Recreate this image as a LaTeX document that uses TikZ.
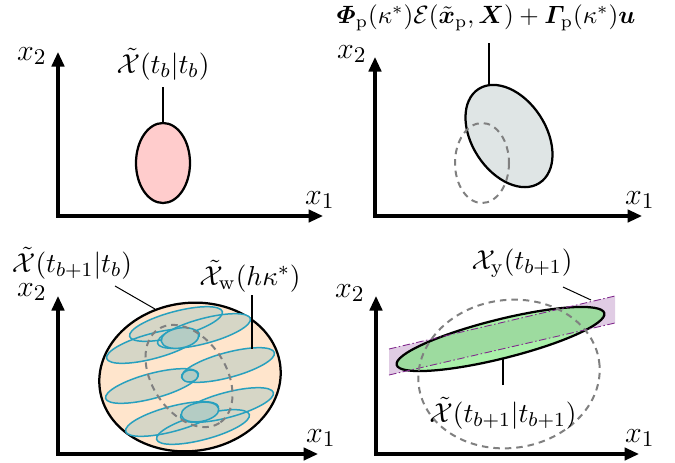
\documentclass[tikz,border=0pt]{standalone}
\usepackage{amsmath,amssymb,bm}
\usetikzlibrary{arrows.meta}
\definecolor{pinkfill}{RGB}{255,204,204}
\definecolor{grayfill}{RGB}{223,229,229}
\definecolor{peach}{RGB}{255,229,204}
\definecolor{tealline}{RGB}{40,160,190}
\definecolor{wfill}{RGB}{214,214,198}
\definecolor{wdark}{RGB}{180,204,196}
\definecolor{bandfill}{RGB}{224,204,228}
\definecolor{bandline}{RGB}{128,40,140}
\definecolor{greenfill}{RGB}{113,230,113}
\definecolor{dashgray}{RGB}{128,128,128}
\begin{document}
\begin{tikzpicture}[x=0.4pt,y=-0.4pt,
  axis/.style={line width=1.25pt,line join=miter,{Triangle[length=5.8pt,width=5pt]}-{Triangle[length=5.8pt,width=5pt]}},
  setline/.style={line width=0.9pt},
  dashset/.style={dashgray,line width=0.8pt,dash pattern=on 2.6pt off 2pt},
  wset/.style={tealline,line width=0.6pt},
  leader/.style={line width=0.8pt},
  thinleader/.style={line width=0.4pt},
  bandedge/.style={bandline,line width=0.35pt,dash pattern=on 3pt off 1pt on 0.6pt off 1pt},
  lbl/.style={inner sep=0pt,font=\fontsize{11}{13}\selectfont},
  axlbl/.style={inner sep=0pt,font=\fontsize{12.5}{14}\selectfont}]
\useasboundingbox (0,0) rectangle (675,462);

% ---------------- panel 1 ----------------
\coordinate (p1y) at (58,52);
\coordinate (p1o) at (58,216);
\coordinate (p1x) at (323,216);
\draw[axis] (p1y) -- (p1o) -- (p1x);
\node[axlbl] (p1x2) at (32,56) {$x_2$};
\node[axlbl] (p1x1) at (320,200) {$x_1$};
\draw[setline,fill=pinkfill] (163,163) ellipse [x radius=27, y radius=40];
\coordinate (p1top) at (163,123);
\node[lbl] (p1lab) at (163,64) {$\tilde{\mathcal{X}}(t_b|t_b)$};
\coordinate (p1lend) at (163,87);
\draw[leader] (p1lend) -- (p1top);

% ---------------- panel 2 ----------------
\coordinate (p2y) at (375,57);
\coordinate (p2o) at (375,216);
\coordinate (p2x) at (642,216);
\draw[axis] (p2y) -- (p2o) -- (p2x);
\node[axlbl] (p2x2) at (352,54) {$x_2$};
\node[axlbl] (p2x1) at (640,200) {$x_1$};
\draw[setline,fill=grayfill,rotate around={-57:(509,136)}] (509,136) ellipse [x radius=56, y radius=37];
\draw[dashset] (482,163) ellipse [x radius=27, y radius=40];
\node[lbl,font=\normalsize] (p2lab) at (486,18) {$\bm{\varPhi}_{\mathrm{p}}(\kappa^*)\mathcal{E}(\tilde{\bm{x}}_{\mathrm{p}},\bm{X})+\bm{\varGamma}_{\mathrm{p}}(\kappa^*)\bm{u}$};
\coordinate (p2lend) at (489,43);
\coordinate (p2top) at (489,86);
\draw[leader] (p2lend) -- (p2top);

% ---------------- panel 3 ----------------
\coordinate (p3y) at (58,296);
\coordinate (p3o) at (58,454);
\coordinate (p3x) at (318,454);
\draw[setline,fill=peach,rotate around={8:(190,377)}] (190,377) ellipse [x radius=91, y radius=74];
\draw[axis] (p3y) -- (p3o) -- (p3x);
\node[axlbl] (p3x2) at (32,292) {$x_2$};
\node[axlbl] (p3x1) at (321,438) {$x_1$};
% fills of the translated ellipses
\foreach \cx/\cy in {176/324, 204/331, 153/346, 228/365, 152/386, 227/405, 172/419, 203/427}{
  \fill[wfill,rotate around={15:(\cx,\cy)}] (\cx,\cy) ellipse [x radius=48, y radius=12.5];
}
\foreach \cx/\cy in {176/324, 204/331, 153/346, 228/365, 152/386, 227/405, 172/419, 203/427}{
  \draw[wset,rotate around={15:(\cx,\cy)}] (\cx,\cy) ellipse [x radius=48, y radius=12.5];
}
\draw[wset,fill=wdark,rotate around={10:(180,338)}] (180,338) ellipse [x radius=19, y radius=10];
\draw[wset,fill=wdark,rotate around={10:(190,376)}] (190,376) ellipse [x radius=8, y radius=6];
\draw[wset,fill=wdark,rotate around={10:(200,412)}] (200,412) ellipse [x radius=19, y radius=9.5];
\draw[dashset,rotate around={-57:(189,376)}] (189,376) ellipse [x radius=56, y radius=37];
\node[lbl] (p3lab) at (72,263) {$\tilde{\mathcal{X}}(t_{b+1}|t_b)$};
\coordinate (p3lend) at (115,286);
\coordinate (p3edge) at (155,309);
\draw[thinleader] (p3lend) -- (p3edge);
\node[lbl] (p3wlab) at (250,276) {$\tilde{\mathcal{X}}_{\mathrm{w}}(h\kappa^*)$};
\coordinate (p3wend) at (252,295);
\coordinate (p3wpt) at (252,349);
\draw[leader] (p3wend) -- (p3wpt);

% ---------------- panel 4 ----------------
\coordinate (p4y) at (376,296);
\coordinate (p4o) at (376,454);
\coordinate (p4x) at (639,454);
\coordinate (b1) at (389,349);
\coordinate (b2) at (615,296);
\coordinate (b3) at (615,323);
\coordinate (b4) at (389,375);
\fill[bandfill] (b1) -- (b2) -- (b3) -- (b4) -- cycle;
\draw[setline,fill=greenfill,fill opacity=0.6,rotate around={14:(500.5,339)}] (500.5,339) ellipse [x radius=107, y radius=19.5];
\draw[bandedge] (b1) -- (b2);
\draw[bandedge] (b4) -- (b3);
\draw[dashset,rotate around={8:(509,374)}] (509,374) ellipse [x radius=91, y radius=74];
\draw[axis] (p4y) -- (p4o) -- (p4x);
\node[axlbl] (p4x2) at (350,293) {$x_2$};
\node[axlbl] (p4x1) at (640,438) {$x_1$};
\node[lbl] (p4ylab) at (522,263) {$\mathcal{X}_{\mathrm{y}}(t_{b+1})$};
\coordinate (p4yend) at (563,287);
\coordinate (p4ypt) at (591,300);
\draw[thinleader] (p4yend) -- (p4ypt);
\node[lbl] (p4lab) at (503,413) {$\tilde{\mathcal{X}}(t_{b+1}|t_{b+1})$};
\coordinate (p4lend) at (503,385);
\coordinate (p4lpt) at (503,358);
\draw[leader] (p4lend) -- (p4lpt);
\end{tikzpicture}
\end{document}
